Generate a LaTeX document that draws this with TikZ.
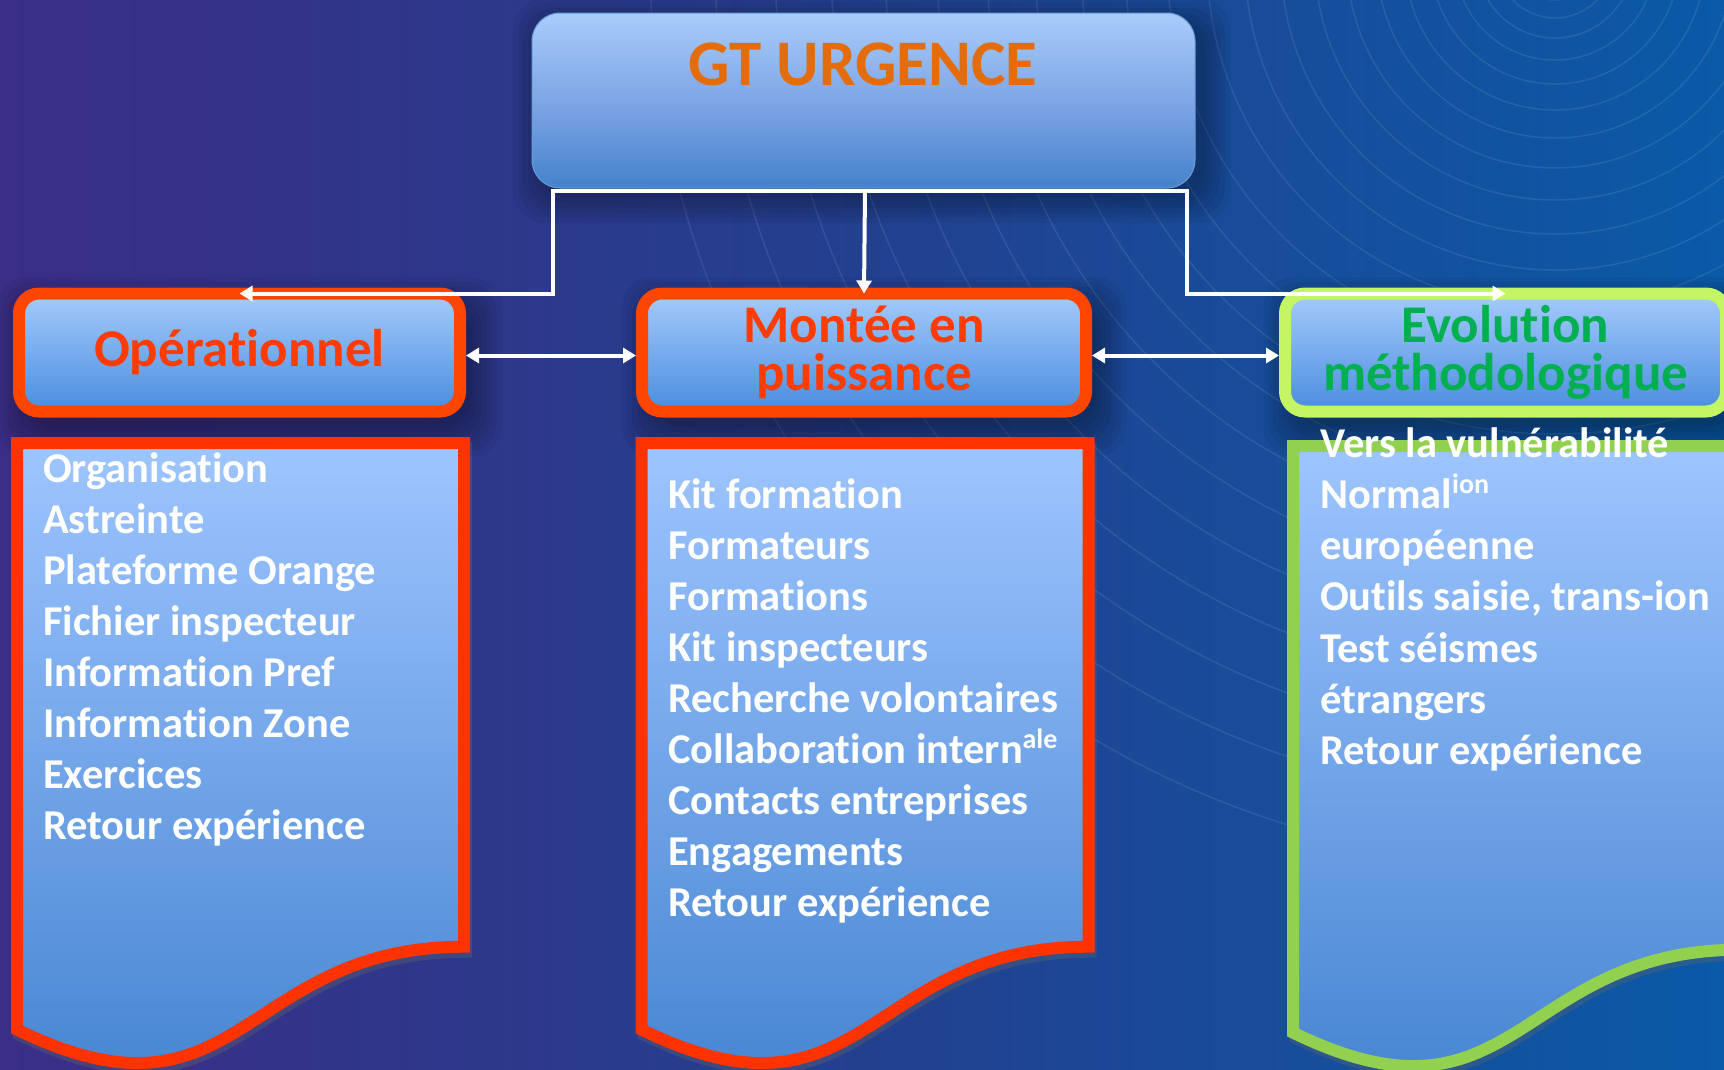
\documentclass[tikz,border=0pt]{standalone}
\usepackage{fontspec}
\setmainfont{Carlito}[Ligatures={NoCommon,NoContextual}]
\usetikzlibrary{arrows.meta,calc}
\definecolor{bgL}{HTML}{3A2E86}
\definecolor{bgM}{HTML}{23408F}
\definecolor{bgR}{HTML}{0A5AA7}
\definecolor{hdTop}{HTML}{A4CBFD}
\definecolor{hdBot}{HTML}{4A8DDD}
\definecolor{dcTop}{HTML}{9EC5FF}
\definecolor{dcBot}{HTML}{3F80CE}
\definecolor{gtTop}{HTML}{A8CCFA}
\definecolor{gtMid}{HTML}{7FA6E6}
\definecolor{gtBot}{HTML}{4482CB}
\definecolor{hdRed}{HTML}{FF4600}
\definecolor{dcRed}{HTML}{FF3300}
\definecolor{txRed}{HTML}{FF3C00}
\definecolor{hdLime}{HTML}{C4F564}
\definecolor{dcGreen}{HTML}{92D050}
\definecolor{txGreen}{HTML}{00B050}
\definecolor{txOrange}{HTML}{E46C0A}
\newcommand\docshape[3][]{%
  \path[#1] (#2,#3) -- ({#2+447},#3) -- ({#2+447},{#3+503.7})
    .. controls ({#2+223.5},{#3+503.7}) and ({#2+223.5},{#3+695.5}) .. (#2,{#3+586.6}) -- cycle;}
\newcommand\hdshadow[1]{%
  \foreach \sh in {0,5,...,30}{
    \fill[black,opacity=0.05,rounded corners=30pt]
      ({#1-220+8-\sh},{352-59+14-\sh}) rectangle ({#1+220+12+\sh},{352+59+16+\sh});}}
\begin{document}
\begin{tikzpicture}[x=1pt,y=-1pt,
  arcs/.style={draw=white,opacity=0.09,line width=1.5pt},
  topbox/.style={rounded corners=28pt,minimum width=663pt,minimum height=175pt,
    top color=gtTop,bottom color=gtBot,middle color=gtMid,draw=gtBot!80!white,line width=1pt,inner sep=0pt},
  titletext/.style={text=txOrange,font=\fontsize{65}{65}\selectfont\bfseries,anchor=base,inner sep=0pt},
  hdr/.style={rounded corners=20pt,line width=12pt,minimum width=441pt,minimum height=118pt,
    top color=hdTop,bottom color=hdBot,align=center,inner sep=0pt,
    font=\fontsize{53}{48}\selectfont\bfseries},
  doc/.style={line width=12pt,line join=miter,top color=dcTop,bottom color=dcBot},
  docshadow/.style={draw=black!60,opacity=0.35,line width=12pt,line join=miter,shift={(2,5)}},
  item/.style={text=white,font=\fontsize{42.5}{51}\selectfont\bfseries,anchor=base west,inner sep=0pt},
  conn/.style={draw=white,line width=4pt},
  tip/.style={-{Triangle[width=15pt,length=13pt]}},
  dtip/.style={{Triangle[width=15pt,length=13pt]}-{Triangle[width=15pt,length=13pt]}}
]
\useasboundingbox (0,0) rectangle (1724,1069);
\shade[left color=bgL,right color=bgR,middle color=bgM] (0,0) rectangle (1724,1069);
\foreach \r in {40,58,78,100,124,150,178,208,240,274,310,348,388,430,474,520,568,618,670,724,780,840,905}
  \draw[arcs] (1555,-40) circle[radius=\r];

% shadows
\hdshadow{239.5}
\hdshadow{864}
\hdshadow{1505.5}
\foreach \sh in {0,5,...,25}{
  \fill[black,opacity=0.05,rounded corners=32pt] ({532+6-\sh},{13+10-\sh}) rectangle ({1195+10+\sh},{188+10+\sh});}

% top box
\node[topbox] (gt) at (863.5,100.5) {};
\node[titletext] (gtt) at (863,85) {GT URGENCE};

% headers
\node[hdr,draw=hdRed,text=txRed] (op) at (239.5,352.5) {Opérationnel};
\node[hdr,draw=hdRed,text=txRed,minimum width=444pt] (mp) at (864,352.5) {Montée en\\puissance};
\node[hdr,draw=hdLime,text=txGreen] (ev) at (1505.5,352.5) {Evolution\\méthodologique};

% connectors
\coordinate (jl) at (553,191);
\coordinate (jm) at (865,191);
\coordinate (jr) at (1187,191);
\draw[conn,line cap=rect] (jl) -- (jr);
\draw[conn,tip] (jl) |- ([yshift=-6pt]op.north);
\draw[conn,tip] (jm) -- ([yshift=-6pt]mp.north);
\draw[conn,tip] (jr) |- ([yshift=-6pt]ev.north);
\draw[conn,dtip] ([yshift=-3pt]op.east) -- ([yshift=-3pt]mp.west);
\draw[conn,dtip] ([yshift=-3pt]mp.east) -- ([yshift=-3pt]ev.west);

% lower document boxes
\docshape[docshadow]{17}{443}
\docshape[docshadow]{641.5}{443}
\docshape[docshadow]{1293}{446}
\docshape[doc,draw=dcRed]{17}{443}
\docshape[doc,draw=dcRed]{641.5}{443}
\docshape[doc,draw=dcGreen]{1293}{446}

% lists
\foreach \t [count=\i] in {Organisation,Astreinte,Plateforme Orange,Fichier inspecteur,
  Information Pref,Information Zone,Exercices,Retour expérience}
  \node[item] (opl\i) at (43,{482+51.05*(\i-1)}) {\t};
\foreach \t [count=\i] in {Kit formation,Formateurs,Formations,Kit inspecteurs,
  Recherche volontaires,{Collaboration intern\raisebox{0.36em}{\fontsize{28}{28}\selectfont ale}},
  Contacts entreprises,Engagements,Retour expérience}
  \node[item] (mpl\i) at (668,{508+51.1*(\i-1)}) {\t};
\foreach \t [count=\i] in {Vers la vulnérabilité,{Normal\raisebox{0.36em}{\fontsize{28}{28}\selectfont ion}},
  européenne,{Outils saisie, trans-ion},Test séismes,étrangers,Retour expérience}
  \node[item] (evl\i) at (1320,{457+51.3*(\i-1)}) {\t};
\end{tikzpicture}
\end{document}
